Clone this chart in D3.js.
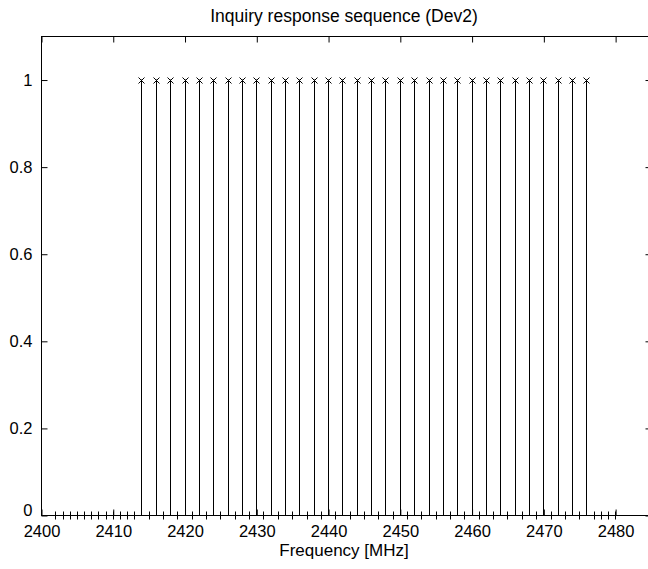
<!DOCTYPE html>
<html>
<head>
<meta charset="utf-8">
<script src="https://cdn.jsdelivr.net/npm/d3@7"></script>
<style>
  body { margin: 0; background: #fff; }
  text { font-family: "Liberation Sans", Arial, sans-serif; fill: #000; }
</style>
</head>
<body>
<svg width="648" height="569"></svg>
<script>
(function (d3) {
    'use strict';

    // channel frequencies [MHz]
    const channels = [
        2402, 2403, 2404, 2405, 2406, 2407, 2408, 2409, 2410, 2411,
        2412, 2413, 2414, 2415, 2416, 2417, 2418, 2419, 2420, 2421,
        2422, 2423, 2424, 2425, 2426, 2427, 2428, 2429, 2430, 2431,
        2432, 2433, 2434, 2435, 2436, 2437, 2438, 2439, 2440, 2441,
        2442, 2443, 2444, 2445, 2446, 2447, 2448, 2449, 2450, 2451,
        2452, 2453, 2454, 2455, 2456, 2457, 2458, 2459, 2460, 2461,
        2462, 2463, 2464, 2465, 2466, 2467, 2468, 2469, 2470, 2471,
        2472, 2473, 2474, 2475, 2476, 2477, 2478, 2479, 2480
    ];
    // response (1 = hit) per channel
    const responses = [
        0, 0, 0, 0, 0, 0, 0, 0, 0, 0,
        0, 0, 1, 0, 1, 0, 1, 0, 1, 0,
        1, 0, 1, 0, 1, 0, 1, 0, 1, 0,
        1, 0, 1, 0, 1, 0, 1, 0, 1, 0,
        1, 0, 1, 0, 1, 0, 1, 0, 1, 0,
        1, 0, 1, 0, 1, 0, 1, 0, 1, 0,
        1, 0, 1, 0, 1, 0, 1, 0, 1, 0,
        1, 0, 1, 0, 1, 0, 0, 0, 0
    ];
    const xTicks = [2400, 2410, 2420, 2430, 2440, 2450, 2460, 2470, 2480];
    const yTicks = [0, 0.2, 0.4, 0.6, 0.8, 1];

    const data = channels.map((f, i) => ({ f, v: responses[i] }));

    const svg = d3.select('svg');
    const left = 41, right = 651, top = 36, bottom = 515;

    const x = d3.scaleLinear().domain([2400, 2485]).range([left, right]);
    const y = d3.scaleLinear().domain([0, 1.1]).range([bottom, top]);

    // frame
    svg.append('rect')
        .attr('x', left + 0.5).attr('y', top + 0.5)
        .attr('width', right - left).attr('height', bottom - top)
        .attr('fill', 'none').attr('stroke', '#000');

    const tickLen = 6;
    const fmtY = d => d === 0 ? '0' : d === 1 ? '1' : d3.format('.1f')(d);

    // x axis (bottom) + mirrored ticks on top
    svg.append('g')
        .attr('transform', `translate(0.5, ${bottom + 0.5})`)
        .call(d3.axisBottom(x).tickValues(xTicks).tickSize(-tickLen).tickPadding(10).tickFormat(d3.format('d')))
        .call(g => g.select('.domain').remove())
        .call(g => g.selectAll('text').attr('font-size', 16.5).attr('font-family', null));
    svg.append('g')
        .attr('transform', `translate(0.5, ${top + 0.5})`)
        .call(d3.axisTop(x).tickValues(xTicks).tickSize(-tickLen).tickFormat(''))
        .call(g => g.select('.domain').remove());

    // y axis (left) + mirrored ticks on right
    svg.append('g')
        .attr('transform', `translate(${left + 0.5}, 0.5)`)
        .call(d3.axisLeft(y).tickValues(yTicks).tickSize(-tickLen).tickPadding(9).tickFormat(fmtY))
        .call(g => g.select('.domain').remove())
        .call(g => g.selectAll('text').attr('font-size', 16.5).attr('font-family', null))
        // lift the "0" label so it clears the "2400" below it
        .call(g => g.selectAll('.tick text').filter(d => d === 0).attr('y', -5));
    svg.append('g')
        .attr('transform', `translate(${right + 0.5}, 0.5)`)
        .call(d3.axisRight(y).tickValues(yTicks).tickSize(-tickLen).tickFormat(''))
        .call(g => g.select('.domain').remove());

    svg.selectAll('.tick line').attr('stroke', '#000');

    // stems
    const stems = svg.append('g').attr('stroke', '#000').attr('stroke-width', 1);
    stems.selectAll('line')
        .data(data.filter(d => d.v > 0))
        .join('line')
        .attr('x1', d => Math.round(x(d.f)) + 0.5).attr('x2', d => Math.round(x(d.f)) + 0.5)
        .attr('y1', y(0)).attr('y2', d => y(d.v));

    // markers
    const r = 3;
    stems.selectAll('path')
        .data(data)
        .join('path')
        .attr('fill', 'none')
        .attr('d', d => {
            const cx = Math.round(x(d.f)) + 0.5, cy = Math.round(y(d.v)) + 0.5;
            if (d.v === 0) return `M${cx},${cy - 4}V${cy + 4}`;
            return `M${cx - r},${cy - r}L${cx + r},${cy + r}M${cx - r},${cy + r}L${cx + r},${cy - r}`;
        });

    // title and axis label
    svg.append('text')
        .attr('x', (left + 647) / 2).attr('y', 22)
        .attr('text-anchor', 'middle').attr('font-size', 17.5)
        .text('Inquiry response sequence (Dev2)');
    svg.append('text')
        .attr('x', (left + 647) / 2).attr('y', 556)
        .attr('text-anchor', 'middle').attr('font-size', 17)
        .text('Frequency [MHz]');
}(d3));
</script>
</body>
</html>
